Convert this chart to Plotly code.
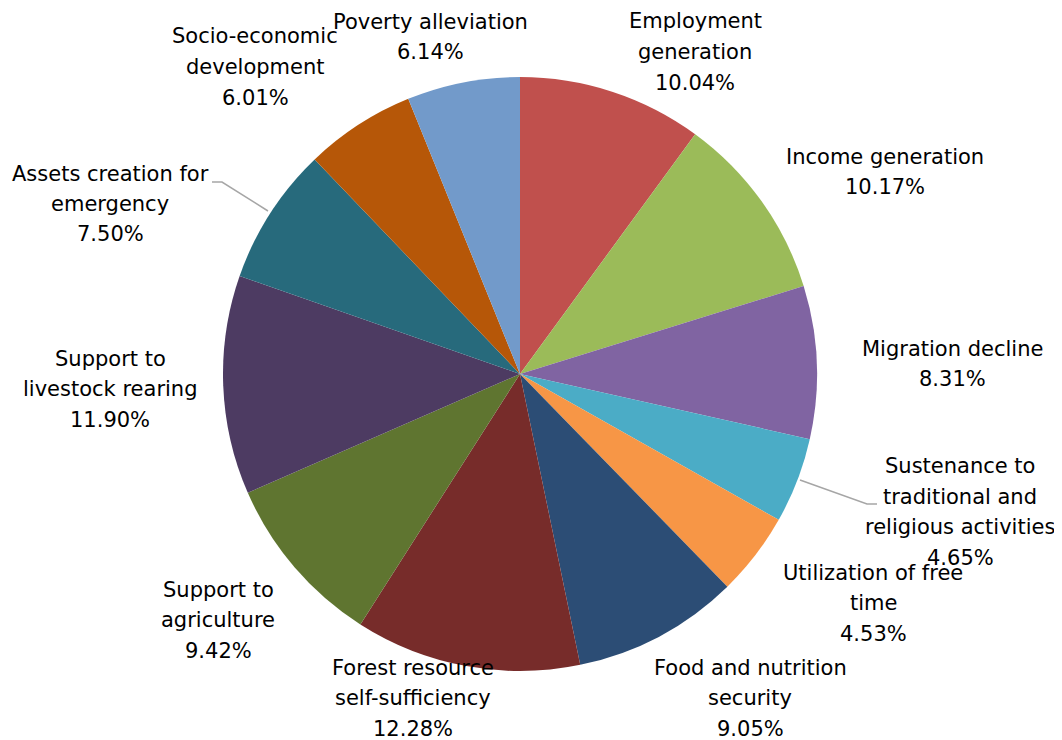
import plotly.graph_objects as go

W, H = 1062, 740
OFF = 8  # page body margin offset

categories = [
    "Employment<br>generation",
    "Income generation",
    "Migration decline",
    "Sustenance to<br>traditional and<br>religious activities",
    "Utilization of free<br>time",
    "Food and nutrition<br>security",
    "Forest resource<br>self-sufficiency",
    "Support to<br>agriculture",
    "Support to<br>livestock rearing",
    "Assets creation for<br>emergency",
    "Socio-economic<br>development",
    "Poverty alleviation",
]
values = [10.04, 10.17, 8.31, 4.65, 4.53, 9.05, 12.28, 9.42, 11.90, 7.50, 6.01, 6.14]
colors = ["#C0504D", "#9BBB59", "#8064A2", "#4BACC6", "#F79646", "#2C4D75",
          "#772C2A", "#5F7530", "#4D3B62", "#276A7C", "#B65708", "#729ACA"]

# label block centres in pixels (layout only)
label_pos = [(695, 52), (885, 172), (952, 364), (960, 512), (873, 603), (750, 698),
             (413, 698), (218, 620), (110, 389), (110, 204), (255, 67), (430, 37)]
LINE_GAP = 30.5

cx, cy, r = 520, 374, 297

def px(x):
    return (x - OFF) / W

def py(y):
    return 1 - (y - OFF) / H

fig = go.Figure(go.Pie(
    labels=[c.replace("<br>", " ") for c in categories],
    values=values,
    sort=False,
    direction="clockwise",
    rotation=0,
    marker=dict(colors=colors, line=dict(width=0)),
    textinfo="none",
    hoverinfo="label+percent",
    domain=dict(x=[px(cx - r), px(cx + r)], y=[py(cy + r), py(cy - r)]),
    showlegend=False,
))

font = dict(family="DejaVu Sans", size=21, color="#000000")
for cat, v, (lx, ly) in zip(categories, values, label_pos):
    lines = cat.split("<br>") + [f"{v:.2f}%"]
    n = len(lines)
    for i, line in enumerate(lines):
        yy = ly + (i - (n - 1) / 2) * LINE_GAP
        fig.add_annotation(
            x=px(lx), y=py(yy), xref="paper", yref="paper",
            text=line, showarrow=False,
            xanchor="center", yanchor="middle", align="center", font=font,
        )

leaders = [
    [(212, 182), (222, 182), (268, 211)],
    [(800, 480), (867, 504), (877, 504)],
]
for pts in leaders:
    path = "M " + " L ".join(f"{px(x)},{py(y)}" for x, y in pts)
    fig.add_shape(type="path", path=path, xref="paper", yref="paper",
                  line=dict(color="#A6A6A6", width=1.5))

fig.update_layout(
    width=W, height=H,
    margin=dict(l=0, r=0, t=0, b=0),
    paper_bgcolor="white", plot_bgcolor="white",
    font=font,
)

fig.write_html("out.html")
